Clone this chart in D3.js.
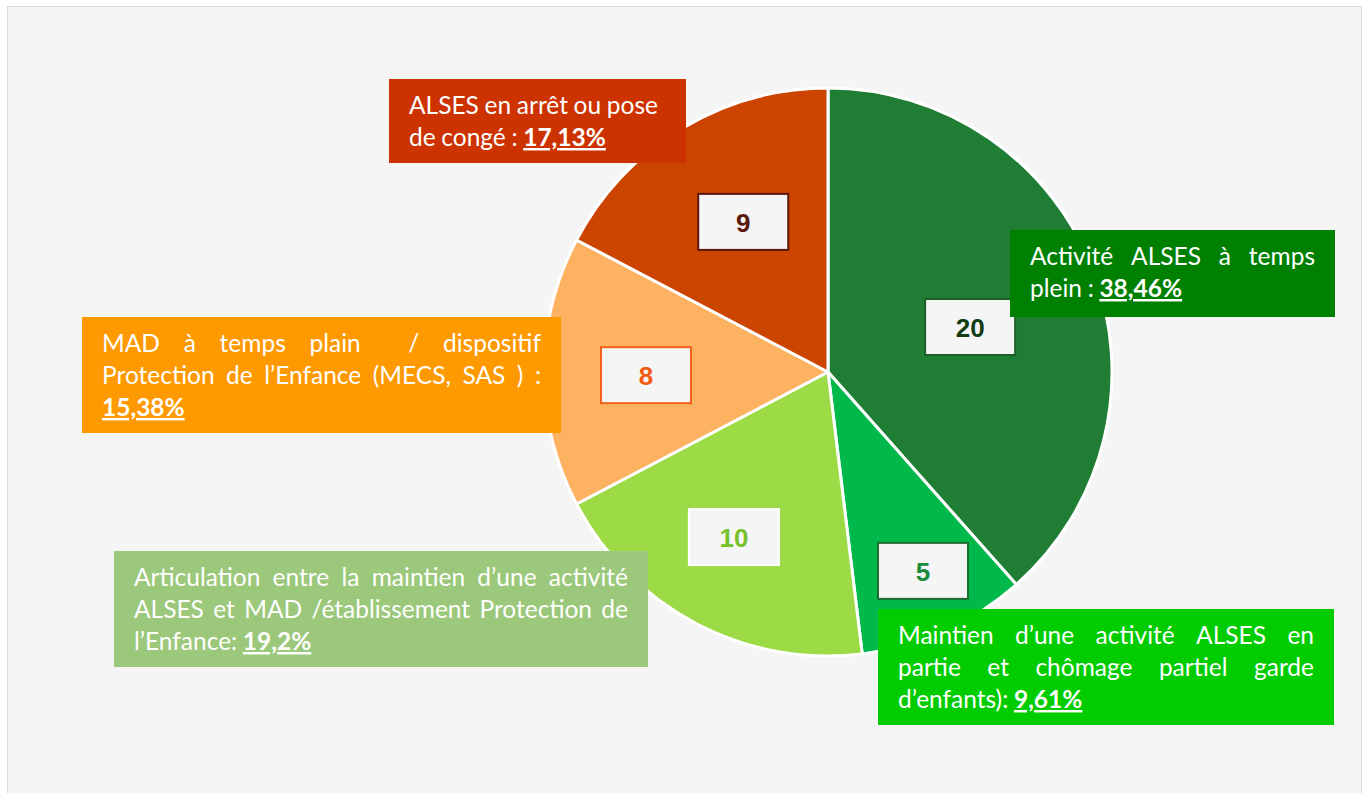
<!DOCTYPE html>
<html>
<head>
<meta charset="utf-8">
<script src="https://cdn.jsdelivr.net/npm/d3@7"></script>
<style>
  body { margin: 0; background: #fff; }
  svg { display: block; }
</style>
</head>
<body>
<div id="chart"></div>
<script>

// slices, clockwise from 12 o'clock
const categories = [
    "Activité ALSES à temps plein",
    "Maintien d’une activité ALSES en partie et chômage partiel garde d’enfants)",
    "Articulation entre la maintien d’une activité ALSES et MAD /établissement Protection de l’Enfance",
    "MAD à temps plain / dispositif Protection de l’Enfance (MECS, SAS )",
    "ALSES en arrêt ou pose de congé"
];
const values = [20, 5, 10, 8, 9];
const percentLabels = ["38,46%", "9,61%", "19,2%", "15,38%", "17,13%"];

// how the callout texts wrap in the picture
const calloutLines = [
    ["Activité ALSES à temps", "plein :"],
    ["Maintien d’une activité ALSES en", "partie et chômage partiel garde", "d’enfants):"],
    ["Articulation entre la maintien d’une activité", "ALSES et MAD /établissement Protection de", "l’Enfance:"],
    ["MAD à temps plain  / dispositif", "Protection de l’Enfance (MECS, SAS ) :", ""],
    ["ALSES en arrêt ou pose", "de congé :"]
];

const sliceColors  = ["#1f7d34", "#00b94a", "#9ddb46", "#fdb262", "#cb4400"];
const valueColors  = ["#123d14", "#1b8b3c", "#77c12a", "#f25a14", "#5a180a"];
const valueStrokes = ["#1d5f26", "#1f6a2e", "#ffffff", "#f2601a", "#5a180a"];
const calloutFills = ["#008000", "#00cc00", "#9bc87a", "#ff9900", "#cc3300"];

// layout
const W = 1367, H = 793;
const cx = 828, cy = 372, R = 284;
const valueRadius = [0.525, 0.776, 0.669, 0.641, 0.607];
const valueAngleShift = [3.2, -1.3, 2.0, -1.0, 1.7];   // degrees
const calloutBoxes = [
    { x: 1010, y: 230, w: 325, h: 87,  justify: true },
    { x: 878,  y: 609, w: 456, h: 116, justify: true },
    { x: 114,  y: 551, w: 534, h: 116, justify: true },
    { x: 82,   y: 317, w: 479, h: 116, justify: true },
    { x: 389,  y: 79,  w: 297, h: 84,  justify: false }
];

const svg = d3.select("#chart").append("svg")
    .attr("width", W)
    .attr("height", H);

svg.append("rect")
    .attr("x", 7.5).attr("y", 6.5)
    .attr("width", 1354).attr("height", 820)
    .attr("fill", "#f5f5f5")
    .attr("stroke", "#dadada");

const pie = d3.pie().sort(null).value(d => d);
const arcs = pie(values);
const arc = d3.arc().innerRadius(0).outerRadius(R);

const g = svg.append("g").attr("transform", `translate(${cx},${cy})`);

g.selectAll(".slice")
    .data(arcs)
    .enter().append("path")
    .attr("class", "slice")
    .attr("d", arc)
    .attr("fill", (d, i) => sliceColors[i])
    .attr("stroke", "#fff")
    .attr("stroke-width", 3)
    .attr("stroke-linejoin", "round");

// value boxes
const boxW = 90, boxH = 56;
const vals = g.selectAll(".val")
    .data(arcs)
    .enter().append("g")
    .attr("class", "val")
    .attr("transform", (d, i) => {
        const a = (d.startAngle + d.endAngle) / 2 + valueAngleShift[i] * Math.PI / 180;
        const r = R * valueRadius[i];
        return `translate(${r * Math.sin(a)},${-r * Math.cos(a)})`;
    });

vals.append("rect")
    .attr("x", -boxW / 2).attr("y", -boxH / 2)
    .attr("width", boxW).attr("height", boxH)
    .attr("fill", "#f5f5f5")
    .attr("stroke", (d, i) => valueStrokes[i])
    .attr("stroke-width", 2);

vals.append("text")
    .attr("text-anchor", "middle")
    .attr("y", 10)
    .style("font-family", "'Liberation Sans', Arial, sans-serif")
    .style("font-weight", "bold")
    .style("font-size", "26px")
    .attr("fill", (d, i) => valueColors[i])
    .text(d => d.data);

// callouts with justified text
const fontSize = 24.5, lineGap = 32, pad = 20;
const font = "Lato, 'Open Sans', sans-serif";

categories.forEach((cat, i) => {
    const b = calloutBoxes[i];
    const cg = svg.append("g").attr("class", "callout");
    cg.append("rect")
        .attr("x", b.x).attr("y", b.y)
        .attr("width", b.w).attr("height", b.h)
        .attr("fill", calloutFills[i]);

    const lines = calloutLines[i];
    const inner = b.w - 2 * pad;

    lines.forEach((line, li) => {
        const last = li === lines.length - 1;
        const y = b.y + 35 + li * lineGap;

        // words plus the number of spaces that follow each one
        const pieces = [];
        line.split(" ").forEach(tok => {
            if (tok.length) pieces.push({ t: tok, bold: false, sp: 1 });
            else if (pieces.length) pieces[pieces.length - 1].sp += 1;
        });
        if (last) pieces.push({ t: percentLabels[i], bold: true, sp: 0 });
        if (pieces.length) pieces[pieces.length - 1].sp = 0;

        const nodes = pieces.map(p => {
            const t = cg.append("text")
                .attr("y", y)
                .style("font-family", font)
                .style("font-size", fontSize + "px")
                .style("font-weight", p.bold ? "bold" : "normal")
                .style("text-decoration", p.bold ? "underline" : "none")
                .attr("fill", "#fff")
                .text(p.t);
            return { t, w: t.node().getComputedTextLength(), sp: p.sp };
        });

        const total = d3.sum(nodes, n => n.w);
        const nSpaces = d3.sum(nodes, n => n.sp);
        let gap = fontSize * 0.23;
        if (b.justify && !last && nSpaces > 0) gap = (inner - total) / nSpaces;
        let x = b.x + pad;
        nodes.forEach(n => {
            n.t.attr("x", x);
            x += n.w + gap * n.sp;
        });
    });
});

</script>
</body>
</html>
